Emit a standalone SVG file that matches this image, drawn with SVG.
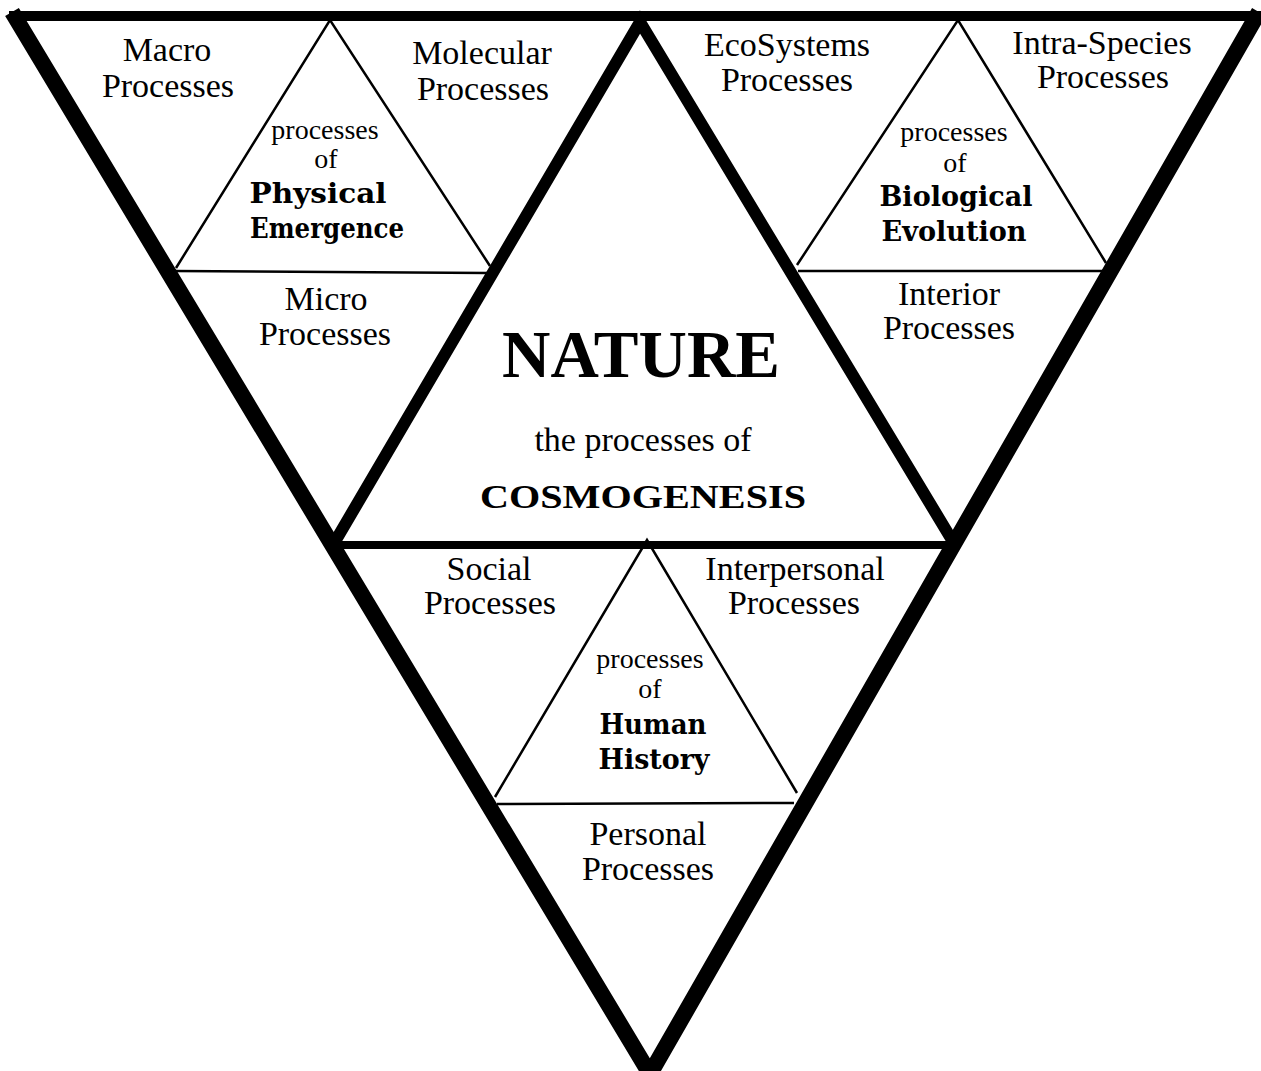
<svg xmlns="http://www.w3.org/2000/svg" width="1261" height="1071" viewBox="0 0 1261 1071">
<style>
.thick{stroke:#000;fill:none;stroke-linecap:butt;}
.thin{stroke:#000;fill:none;stroke-width:2.5;}
text{font-family:"Liberation Serif","Times New Roman",serif;fill:#000;text-anchor:middle;}
.lab{font-size:34px;}
.sm{font-size:28px;}
.b{font-family:"DejaVu Serif","Liberation Serif",serif;font-size:28px;font-weight:bold;}
</style>
<rect width="1261" height="1071" fill="#fff"/>
<g id="connectors">
  <line class="thick" x1="9" y1="16" x2="1261" y2="16" stroke-width="10"/>
  <polyline class="thick" points="12,12 650,1074 1259,12" stroke-width="16" stroke-linejoin="miter"/>
  <polyline class="thick" points="333,545 640,22 955,545" stroke-width="12" stroke-linejoin="miter"/>
  <line class="thick" x1="333" y1="545" x2="950" y2="545" stroke-width="8"/>
  <polyline class="thin" points="176,268 330,20 490,266"/>
  <line class="thin" x1="175" y1="271" x2="488" y2="273"/>
  <polyline class="thin" points="797,265 958,20 1106,263"/>
  <line class="thin" x1="798" y1="271" x2="1103" y2="271"/>
  <polyline class="thin" points="495,797 647,540 797,793"/>
  <line class="thin" x1="497" y1="804" x2="794" y2="803"/>
</g>
<g id="macro"><text class="lab" x="167" y="61">Macro</text><text class="lab" x="168" y="97">Processes</text></g>
<g id="molecular"><text class="lab" x="482" y="64">Molecular</text><text class="lab" x="483" y="100">Processes</text></g>
<g id="physical"><text class="sm" x="325" y="139">processes</text><text class="sm" x="326" y="168">of</text><text class="b" x="318" y="203" textLength="137" lengthAdjust="spacingAndGlyphs">Physical</text><text class="b" x="327" y="238" textLength="154" lengthAdjust="spacingAndGlyphs">Emergence</text></g>
<g id="micro"><text class="lab" x="326" y="310">Micro</text><text class="lab" x="325" y="345">Processes</text></g>
<g id="ecosystems"><text class="lab" x="787" y="56">EcoSystems</text><text class="lab" x="787" y="91">Processes</text></g>
<g id="intraspecies"><text class="lab" x="1102" y="54">Intra-Species</text><text class="lab" x="1103" y="88">Processes</text></g>
<g id="biological"><text class="sm" x="954" y="141">processes</text><text class="sm" x="955" y="172">of</text><text class="b" x="956" y="206" textLength="153" lengthAdjust="spacingAndGlyphs">Biological</text><text class="b" x="954" y="241" textLength="145" lengthAdjust="spacingAndGlyphs">Evolution</text></g>
<g id="interior"><text class="lab" x="949" y="305">Interior</text><text class="lab" x="949" y="339">Processes</text></g>
<g id="nature"><text x="641" y="377" font-size="67" font-weight="bold">NATURE</text><text class="lab" x="643" y="451">the processes of</text><text x="643" y="508" font-size="34" font-weight="bold" textLength="326" lengthAdjust="spacingAndGlyphs">COSMOGENESIS</text></g>
<g id="social"><text class="lab" x="489" y="580">Social</text><text class="lab" x="490" y="614">Processes</text></g>
<g id="interpersonal"><text class="lab" x="795" y="580">Interpersonal</text><text class="lab" x="794" y="614">Processes</text></g>
<g id="human"><text class="sm" x="650" y="668">processes</text><text class="sm" x="650" y="698">of</text><text class="b" x="653" y="734" textLength="107" lengthAdjust="spacingAndGlyphs">Human</text><text class="b" x="654" y="769" textLength="111" lengthAdjust="spacingAndGlyphs">History</text></g>
<g id="personal"><text class="lab" x="648" y="845">Personal</text><text class="lab" x="648" y="880">Processes</text></g>
</svg>
